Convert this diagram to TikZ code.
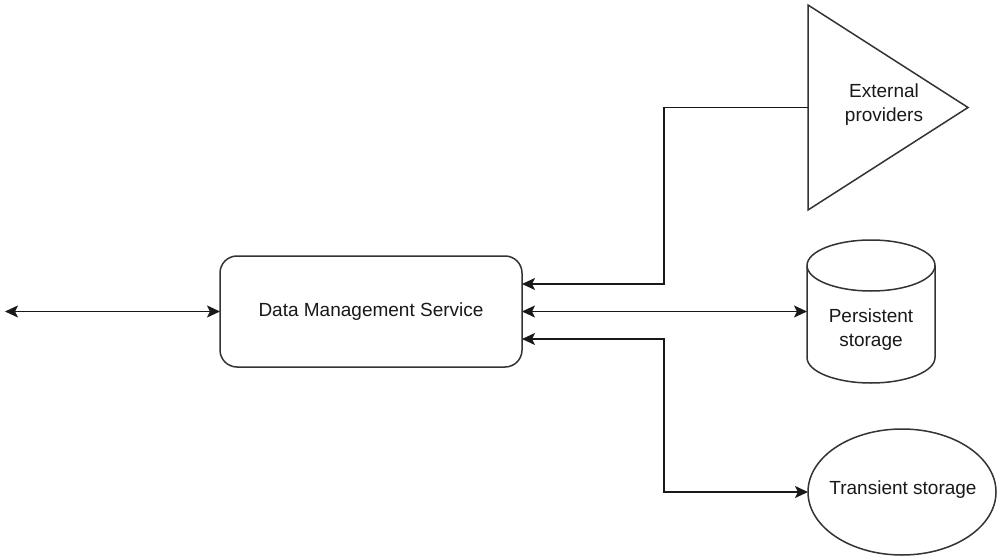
\documentclass[tikz,border=0pt]{standalone}
\usepackage{fontspec}
\setmainfont{Liberation Sans}
\usetikzlibrary{arrows.meta,shapes.geometric}
\begin{document}
\begin{tikzpicture}[x=1pt,y=-1pt,
  lbl/.style={font=\fontsize{19}{24}\selectfont, align=center, text=black!90},
  shapeline/.style={line width=1.5pt, draw=black!80},
  conn/.style={line width=1.6pt, draw=black!90},
  >={Stealth[length=13pt,width=12pt,inset=3pt]},
  holder/.style={inner sep=0pt, outer sep=0pt}]
\fill[white] (0,0) rectangle (998,556);
\useasboundingbox (0,0) rectangle (998,556);

% Data Management Service
\node[shapeline, draw, rounded corners=17pt, minimum width=302pt, minimum height=111pt, outer sep=0pt, lbl] (dms) at (371,311.5) {Data Management Service};

% External providers (triangle)
\node[holder, minimum width=160pt, minimum height=205pt] (ext) at (888,107.5) {};
\draw[shapeline] (ext.north west) -- (ext.east) -- (ext.south west) -- cycle;
\node[lbl] (extlbl) at (884,105) {External\\providers};

% Persistent storage (cylinder)
\node[holder, minimum width=128pt, minimum height=143pt] (ps) at (871,311.5) {};
\draw[shapeline] (871,265.5) ellipse [x radius=64pt, y radius=25.5pt];
\draw[shapeline] (807,265.5) -- (807,357.5) arc[start angle=180, end angle=360, x radius=64pt, y radius=25.5pt] -- (935,265.5);
\node[lbl] (pslbl) at (871,330) {Persistent\\storage};

% Transient storage (ellipse)
\node[shapeline, draw, ellipse, minimum width=188pt, minimum height=126pt, holder] (ts) at (902,492) {};
\node[lbl] (tslbl) at (903,490) {Transient storage};

% connectors
\coordinate (lft) at (5,311.5);
\draw[conn,<->] (lft) -- (dms.west);
\draw[conn,->] (ext.west) -| (664,284) -- (dms.east |- 0,284);
\draw[conn,<->] (dms.east) -- (ps.west);
\draw[conn,<->] (dms.east |- 0,339) -- (664,339) |- (ts.west);
\end{tikzpicture}
\end{document}
